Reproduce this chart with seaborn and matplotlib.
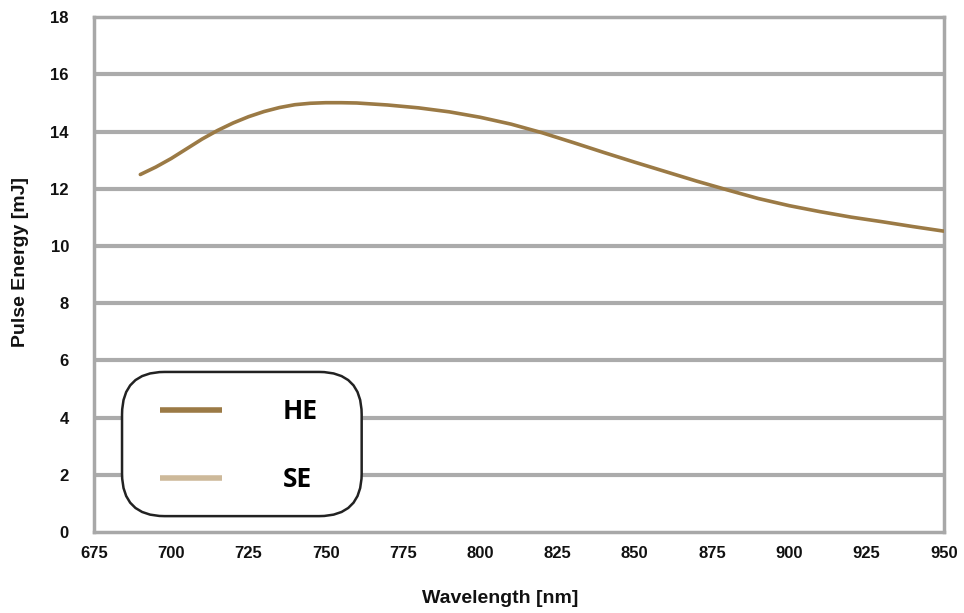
import matplotlib
matplotlib.use("Agg")
import pandas as pd
import matplotlib.pyplot as plt
import seaborn as sns
from matplotlib.lines import Line2D
from matplotlib.patches import FancyBboxPatch

wavelength = [690, 695, 700, 705, 710, 715, 720, 725, 730, 735, 740, 745, 750,
              755, 760, 770, 780, 790, 800, 810, 820, 830, 840, 850, 860, 870,
              880, 890, 900, 910, 920, 930, 940, 950]
he_energy = [12.5, 12.76, 13.06, 13.4, 13.74, 14.04, 14.3, 14.52, 14.7, 14.84,
             14.94, 14.99, 15.01, 15.01, 15.0, 14.93, 14.83, 14.69, 14.5, 14.26,
             13.96, 13.62, 13.27, 12.93, 12.6, 12.27, 11.96, 11.66, 11.41, 11.2,
             11.01, 10.85, 10.68, 10.52]
x_ticks = [675, 700, 725, 750, 775, 800, 825, 850, 875, 900, 925, 950]
y_ticks = [0, 2, 4, 6, 8, 10, 12, 14, 16, 18]
series_names = ["HE", "SE"]
series_colors = ["#9b7a45", "#cdb99a"]

df = pd.DataFrame({"Wavelength": wavelength, "Energy": he_energy})

sns.set_theme(style="white")
plt.rcParams["font.family"] = ["Liberation Sans", "DejaVu Sans"]
plt.rcParams["text.color"] = "#111111"
plt.rcParams["axes.labelcolor"] = "#111111"

fig = plt.figure(figsize=(9.64, 6.13), dpi=100)
ax = fig.add_axes([0.0975, 0.132, 0.8815, 0.840])

for y in y_ticks[1:-1]:
    ax.axhline(y, color="#ababab", lw=3.0, zorder=1)

sns.lineplot(data=df, x="Wavelength", y="Energy", color=series_colors[0],
             lw=2.6, ax=ax, zorder=3)

ax.set_xlim(675, 950)
ax.set_ylim(0, 18)
ax.set_xticks(x_ticks)
ax.set_yticks(y_ticks)
ax.tick_params(axis="both", length=0, labelsize=12, pad=10)
for lab in ax.get_xticklabels() + ax.get_yticklabels():
    lab.set_fontweight("bold")
    lab.set_color("#111111")
ax.tick_params(axis="y", pad=18)
ax.set_xlabel("Wavelength [nm]", fontsize=14, fontweight="bold")
ax.set_ylabel("Pulse Energy [mJ]", fontsize=14, fontweight="bold")
ax.xaxis.set_label_coords(0.478, -0.113)
ax.yaxis.set_label_coords(-0.076, 0.525)

for side in ["left", "right", "top", "bottom"]:
    ax.spines[side].set_visible(True)
    ax.spines[side].set_color("#a8a8a8")
    ax.spines[side].set_linewidth(2.5)

# rounded legend box
box = FancyBboxPatch((0.033, 0.031), 0.282, 0.280,
                     boxstyle="round,pad=0,rounding_size=0.05",
                     mutation_aspect=850 / 515,
                     transform=ax.transAxes, facecolor="white",
                     edgecolor="#222222", lw=1.8, zorder=5)
ax.add_patch(box)

handles = [Line2D([0], [0], color=c, lw=4, solid_capstyle="butt")
           for c in series_colors]
leg = ax.legend(handles, series_names, loc="center left",
                bbox_to_anchor=(0.0776, 0.168), frameon=False,
                handlelength=2.35, handletextpad=2.3, labelspacing=1.55,
                borderpad=0, borderaxespad=0,
                prop={"family": "Open Sans", "weight": "bold", "size": 19})
for t in leg.get_texts():
    t.set_color("black")
leg.set_zorder(6)

fig.savefig("out.png", dpi=100)
plt.close(fig)
